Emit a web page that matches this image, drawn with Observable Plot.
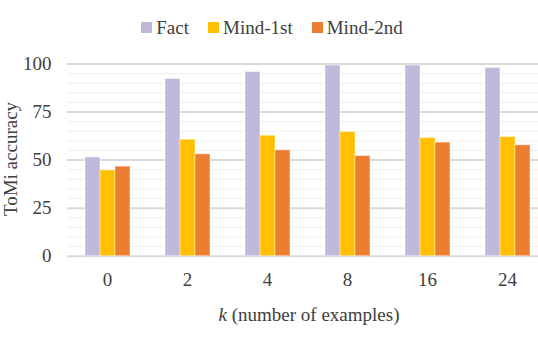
<!DOCTYPE html>
<html>
<head>
<meta charset="utf-8">
<script src="https://cdn.jsdelivr.net/npm/d3@7"></script>
<script src="https://cdn.jsdelivr.net/npm/@observablehq/plot@0.6"></script>
<style>
  html, body { margin: 0; padding: 0; background: white; overflow: hidden; }
  body { width: 538px; height: 341px; position: relative; font-family: "Liberation Serif", "DejaVu Serif", serif; color: #404040; }
  #legend { height: 45px; display: flex; justify-content: center; align-items: center; gap: 19px; font-size: 19px; padding-left: 6px; padding-top: 9px; box-sizing: border-box; line-height: 19px; }
  #legend .item { display: flex; align-items: center; gap: 4px; }
  #legend .sw { width: 11px; height: 11px; display: inline-block; }
  #caption { text-align: center; font-size: 19px; padding-left: 80px; line-height: 24px; margin-top: 8px; }
  #ylabel { position: absolute; left: 9.5px; top: 159px; font-size: 19px; line-height: 19px; white-space: nowrap; transform: translate(-50%, -50%) rotate(-90deg); }
</style>
</head>
<body>
<div id="legend"></div>
<div id="chart"></div>
<div id="caption"><i>k</i> (number of examples)</div>
<div id="ylabel">ToMi accuracy</div>
<script>
const ks = ["0", "2", "4", "8", "16", "24"];
const series = ["Fact", "Mind-1st", "Mind-2nd"];
const colors = ["#BEB9DB", "#FFC000", "#ED7D31"];
const fact = [51.4, 92.2, 95.8, 99.2, 99.2, 97.9];
const mind1 = [44.6, 60.6, 62.7, 64.6, 61.5, 62.0];
const mind2 = [46.6, 53.0, 55.1, 52.1, 59.1, 57.7];
const yTicks = [0, 25, 50, 75, 100];
const minorTicks = d3.range(0, 101, 5).filter(v => v % 25 !== 0);

const valuesBySeries = [fact, mind1, mind2];
const data = [];
ks.forEach((k, i) => series.forEach((s, j) => data.push({k, series: s, value: valuesBySeries[j][i]})));

// legend
const legend = document.getElementById("legend");
series.forEach((s, j) => {
  const it = document.createElement("span");
  it.className = "item";
  it.innerHTML = `<span class="sw" style="background:${colors[j]}"></span><span>${s}</span>`;
  legend.appendChild(it);
});

const chart = Plot.plot({
  width: 538,
  height: 250,
  marginLeft: 67,
  marginRight: -9,
  marginTop: 18.5,
  marginBottom: 39.3,
  style: {fontFamily: "'Liberation Serif', 'DejaVu Serif', serif", fontSize: "19px", color: "#404040", background: "white"},
  facet: {data, x: "k"},
  fx: {domain: ks, padding: 0, axis: "bottom", label: null, tickSize: 0, tickPadding: 16},
  x: {domain: series, axis: null, paddingInner: 0, paddingOuter: 1.11},
  y: {domain: [0, 100], ticks: yTicks, tickSize: 0, tickPadding: 16, label: null},
  color: {domain: series, range: colors},
  marks: [
    Plot.ruleY(minorTicks, {stroke: "#efefef", strokeWidth: 1}),
    Plot.ruleY(yTicks, {stroke: "#d9d9d9", strokeWidth: 2}),
    Plot.barY(data, {x: "series", y: "value", fill: "series", stroke: "white", strokeOpacity: 0.45, strokeWidth: 1})
  ]
});
document.getElementById("chart").appendChild(chart);
</script>
</body>
</html>
